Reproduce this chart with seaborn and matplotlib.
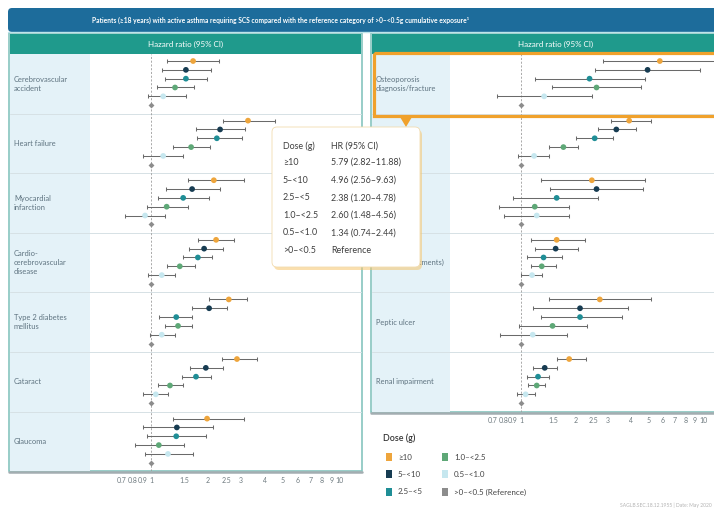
import numpy as np
import pandas as pd
import matplotlib
matplotlib.use("Agg")
import matplotlib.pyplot as plt
import seaborn as sns
from matplotlib.patches import Rectangle, FancyBboxPatch, Polygon

sns.set_theme(style="white")
plt.rcParams['font.family'] = ['Lato', 'DejaVu Sans']

# ---------------------------------------------------------------- data
doses = ["≥10", "5–<10", "2.5–<5", "1.0–<2.5", "0.5–<1.0", ">0–<0.5"]
dose_legend = ["≥10", "5–<10", "2.5–<5", "1.0–<2.5", "0.5–<1.0", ">0–<0.5 (Reference)"]
dose_colors = ["#eea53c", "#173c52", "#1f8e96", "#5ea877", "#c6e7ef", "#8c8c8c"]

left_outcomes = ["Cerebrovascular\naccident", "Heart failure", "Myocardial\ninfarction",
                 "Cardio-\ncerebrovascular\ndisease", "Type 2 diabetes\nmellitus",
                 "Cataract", "Glaucoma"]
# hazard ratios for doses ≥10 ... 0.5–<1.0 (reference category fixed at 1)
left_hr = [[1.67, 1.53, 1.53, 1.34, 1.16],
           [3.26, 2.32, 2.23, 1.63, 1.16],
           [2.15, 1.65, 1.48, 1.21, 0.93],
           [2.21, 1.91, 1.77, 1.42, 1.14],
           [2.58, 2.03, 1.36, 1.39, 1.14],
           [2.85, 1.95, 1.73, 1.26, 1.06],
           [1.98, 1.37, 1.36, 1.10, 1.23]]
left_lo = [[1.21, 1.14, 1.19, 1.08, 0.97],
           [2.40, 1.73, 1.75, 1.31, 0.91],
           [1.57, 1.20, 1.09, 0.95, 0.73],
           [1.77, 1.59, 1.48, 1.21, 0.96],
           [2.03, 1.65, 1.10, 1.19, 0.99],
           [2.37, 1.61, 1.46, 1.09, 0.91],
           [1.31, 0.91, 0.95, 0.82, 0.93]]
left_hi = [[2.29, 2.08, 1.98, 1.69, 1.53],
           [4.53, 3.14, 3.03, 2.05, 1.48],
           [3.10, 2.32, 2.03, 1.57, 1.19],
           [2.75, 2.40, 2.10, 1.71, 1.34],
           [3.22, 2.52, 1.65, 1.65, 1.34],
           [3.64, 2.40, 2.08, 1.48, 1.23],
           [3.10, 2.13, 1.95, 1.49, 1.67]]

right_outcomes = ["Osteoporosis\ndiagnosis/fracture", "Pneumonia", "Sleep apnoea",
                  "Anxiety (treatments)", "Peptic ulcer", "Renal impairment"]
right_hr = [[5.79, 4.96, 2.38, 2.60, 1.34],
            [3.93, 3.34, 2.54, 1.71, 1.18],
            [2.45, 2.60, 1.57, 1.19, 1.22],
            [1.57, 1.55, 1.33, 1.30, 1.15],
            [2.71, 2.11, 2.11, 1.49, 1.16],
            [1.84, 1.35, 1.24, 1.22, 1.06]]
right_lo = [[2.82, 2.56, 1.20, 1.48, 0.74],
            [3.14, 2.64, 2.01, 1.42, 0.96],
            [1.28, 1.45, 0.90, 0.76, 0.81],
            [1.13, 1.19, 1.08, 1.13, 1.00],
            [1.42, 1.16, 1.28, 0.98, 0.77],
            [1.57, 1.16, 1.08, 1.09, 0.95]]
right_hi = [[11.88, 9.63, 4.78, 4.56, 2.44],
            [5.17, 4.29, 3.22, 2.06, 1.43],
            [4.79, 4.67, 2.64, 1.84, 1.84],
            [2.25, 2.06, 1.67, 1.55, 1.31],
            [5.17, 3.88, 3.60, 2.30, 1.80],
            [2.27, 1.58, 1.43, 1.36, 1.19]]

tick_values = [0.7, 0.8, 0.9, 1, 1.5, 2, 2.5, 3, 4, 5, 6, 7, 8, 9, 10]
tick_labels = ["0.7", "0.8", "0.9", "1", "1.5", "2", "2.5", "3", "4", "5", "6", "7", "8", "9", "10"]

title = ("Patients (≥18 years) with active asthma requiring SCS compared with the "
         "reference category of >0–<0.5g cumulative exposure¹")

# ---------------------------------------------------------------- figure
W, H = 714, 511
fig = plt.figure(figsize=(W / 100, H / 100), dpi=100)


def frect(x0, y0, x1, y1):
    return [x0 / W, 1 - y1 / H, (x1 - x0) / W, (y1 - y0) / H]


bg = fig.add_axes([0, 0, 1, 1], zorder=0)
bg.set_xlim(0, W)
bg.set_ylim(H, 0)
bg.axis("off")

LABEL_C = "#5e7380"
TEAL = "#1f9a8c"
FRAME = "#86c5bf"

# call-out box geometry (drawn on the overlay further down)
POP_X0, POP_Y0, POP_W, POP_H = 272, 127, 148, 140

# title banner
bg.add_patch(FancyBboxPatch((8, 8), 740, 24, boxstyle="round,pad=0,rounding_size=4",
                            fc="#1d6c9b", ec="none"))
bg.plot([8, 714], [32.5, 32.5], color="#bfe4ea", lw=1)
bg.text(280, 20, title, color="white", fontsize=4.8, fontweight="bold",
        ha="center", va="center")

ROW_TOP = 54
ROW_H = 59.6
SLOTS = [0.118 + 0.148 * k for k in range(6)]


def draw_panel(x0, x1, lab_x1, outcomes, hr, lo, hi, ax_x1, ref_px, decade_px):
    n = len(outcomes)
    y_bot = ROW_TOP + n * ROW_H
    bg.add_patch(Rectangle((x0, 33.5), x1 - x0, y_bot - 33.5, fc="white", ec=FRAME, lw=1.2))
    bg.add_patch(Rectangle((x0 + 1, 34.5), x1 - x0 - 2, ROW_TOP - 34.5, fc=TEAL, ec="none"))
    bg.text((x0 + x1) / 2, (34.5 + ROW_TOP) / 2, "Hazard ratio (95% CI)", color="white",
            fontsize=5.8, ha="center", va="center")
    bg.add_patch(Rectangle((x0 + 1, ROW_TOP), lab_x1 - x0 - 1, y_bot - ROW_TOP,
                           fc="#e4f2f8", ec="none"))
    for i in range(1, n):
        yy = ROW_TOP + i * ROW_H
        bg.plot([x0 + 1, x1 - 1], [yy, yy], color="#d6e1e5", lw=0.7)
    bg.plot([x0, x1], [y_bot + 1, y_bot + 1], color="#a3adb1", lw=1.8)
    renderer = fig.canvas.get_renderer()
    for i, name in enumerate(outcomes):
        yc = ROW_TOP + (i + 0.5) * ROW_H
        t = bg.text(x0 + 5, yc, name, color=LABEL_C, fontsize=5.4,
                    ha="left", va="center", linespacing=1.3)
        # labels lying under the call-out box are hidden or trimmed by it
        bb = t.get_window_extent(renderer=renderer)
        under_y = POP_Y0 < yc < POP_Y0 + POP_H
        under_x = bb.x0 < POP_X0 + POP_W and bb.x1 > POP_X0
        if under_y and under_x:
            if bb.x1 <= POP_X0 + POP_W + 2:
                t.remove()
            else:
                clip = Rectangle((POP_X0 + POP_W, 0), 400, H, transform=bg.transData)
                t.set_clip_path(clip)

    ax = fig.add_axes(frect(lab_x1, ROW_TOP, ax_x1, y_bot), zorder=1)
    ax.patch.set_alpha(0)
    ax.set_xscale("log")
    lo_lim = 10 ** ((lab_x1 - ref_px) / decade_px)
    hi_lim = 10 ** ((ax_x1 - ref_px) / decade_px)
    ax.set_xlim(lo_lim, hi_lim)
    ax.set_ylim(n, 0)

    rows = []
    for i in range(n):
        for k in range(5):
            rows.append(dict(hr=hr[i][k], lo=lo[i][k], hi=hi[i][k],
                             y=i + SLOTS[k], dose=doses[k]))
    df = pd.DataFrame(rows)
    ref = pd.DataFrame(dict(hr=[1.0] * n, y=[i + SLOTS[5] for i in range(n)],
                            dose=[doses[5]] * n))

    ax.axvline(1, color="#9c9c9c", lw=0.6, ls=(0, (2.5, 2)), zorder=1)
    ax.errorbar(df["hr"], df["y"], xerr=[df["hr"] - df["lo"], df["hi"] - df["hr"]],
                fmt="none", ecolor="#6a6a6a", elinewidth=0.75, capsize=1.4,
                capthick=0.75, zorder=2, clip_on=True)
    sns.scatterplot(data=df, x="hr", y="y", hue="dose", hue_order=doses[:5],
                    palette=dose_colors[:5], s=17, linewidth=0, marker="o",
                    legend=False, ax=ax, zorder=3)
    sns.scatterplot(data=ref, x="hr", y="y", color=dose_colors[5], s=9, marker="D",
                    linewidth=0, legend=False, ax=ax, zorder=3)

    ax.set_xticks(tick_values)
    ax.set_xticklabels(tick_labels)
    ax.xaxis.set_minor_locator(matplotlib.ticker.NullLocator())
    ax.tick_params(axis="x", length=0, pad=4, labelsize=5, labelcolor="#6f7b80")
    ax.set_yticks([])
    ax.set_xlabel("")
    ax.set_ylabel("")
    for s in ax.spines.values():
        s.set_visible(False)
    return ax


draw_panel(9, 362, 90, left_outcomes, left_hr, left_lo, left_hi, 361, 151, 189)
draw_panel(371, 740, 450, right_outcomes, right_hr, right_lo, right_hi, 714, 521, 182)

# white gap between the two panels
bg.add_patch(Rectangle((362.6, 33), 7.8, 8, fc="white", ec="none"))

# ---------------------------------------------------------------- overlay
ov = fig.add_axes([0, 0, 1, 1], zorder=5)
ov.set_xlim(0, W)
ov.set_ylim(H, 0)
ov.axis("off")

ORANGE = "#f0a12b"
ov.add_patch(Rectangle((373.5, 53.5), 345, 63, fc="none", ec=ORANGE, lw=2.3))
ov.add_patch(Polygon([(400, 117), (412, 117), (406, 127)], closed=True, fc=ORANGE, ec="none"))

# call-out with the highlighted row's estimates
ov.add_patch(FancyBboxPatch((POP_X0 + 2, POP_Y0 + 3), POP_W, POP_H,
                            boxstyle="round,pad=0,rounding_size=5",
                            fc="#f6c66c", ec="none", alpha=0.55))
ov.add_patch(FancyBboxPatch((POP_X0, POP_Y0), POP_W, POP_H,
                            boxstyle="round,pad=0,rounding_size=5",
                            fc="white", ec="#f2dcb0", lw=0.6))
TXT = "#3f3f3f"
ov.text(283, 146, "Dose (g)", fontsize=6.4, color=TXT, va="center")
ov.text(331, 146, "HR (95% CI)", fontsize=6.4, color=TXT, va="center")
for k in range(6):
    yy = 162.5 + 17.6 * k
    ov.text(283, yy, doses[k], fontsize=6.4, color=TXT, va="center")
    if k < 5:
        s = f"{right_hr[0][k]:.2f} ({right_lo[0][k]:.2f}–{right_hi[0][k]:.2f})"
    else:
        s = "Reference"
    ov.text(331, yy, s, fontsize=6.4, color=TXT, va="center")

# dose legend
ov.text(383, 438, "Dose (g)", fontsize=6.4, color="#333333", va="center", fontweight="semibold")
for k in range(6):
    col, row = divmod(k, 3)
    xx = 386 + col * 56
    yy = 457 + row * 17.5
    ov.add_patch(Rectangle((xx, yy - 4), 6, 8, fc=dose_colors[k], ec="none"))
    ov.text(xx + 12, yy, dose_legend[k], fontsize=5.8, color="#444444", va="center")

ov.text(712, 505, "SAGLB.SEC.18.12.1955 | Date: May 2020", fontsize=3.6,
        color="#b3b3b3", ha="right", va="center")

fig.savefig("out.png", dpi=100, facecolor="white")
